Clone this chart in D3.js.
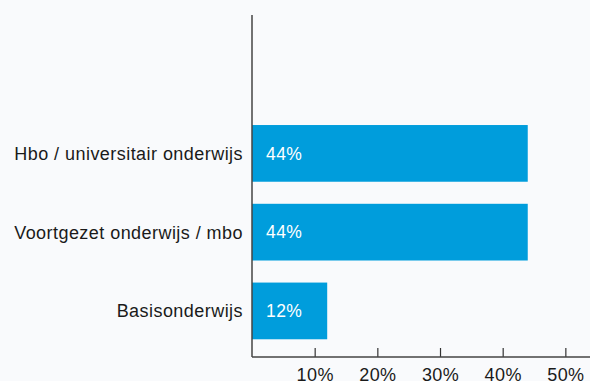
<!DOCTYPE html>
<html>
<head>
<meta charset="utf-8">
<script src="https://cdn.jsdelivr.net/npm/d3@7/dist/d3.min.js"></script>
<style>
  html, body { margin: 0; padding: 0; background: #f9fafc; }
  svg { display: block; font-family: "Liberation Sans", Arial, Helvetica, sans-serif; }
</style>
</head>
<body>
<svg id="chart" width="590" height="381"></svg>
<script>
// Education level shares
const categories = ["Hbo / universitair onderwijs", "Voortgezet onderwijs / mbo", "Basisonderwijs"];
const values = [44, 44, 12];
const tickValues = [10, 20, 30, 40, 50];

const width = 590, height = 381;
const x0 = 252, axisY = 357, plotTop = 15;

const svg = d3.select("#chart");
svg.append("rect").attr("width", width).attr("height", height).attr("fill", "#f9fafc");

const x = d3.scaleLinear().domain([0, 10]).range([x0, x0 + 62.67]);
const y = d3.scaleBand().domain(categories).range([114, 350.3]).paddingInner(0.28).paddingOuter(0.14);

// bars
svg.append("g").selectAll("rect")
  .data(categories)
  .join("rect")
  .attr("x", x(0))
  .attr("y", d => y(d))
  .attr("width", (d, i) => x(values[i]) - x(0))
  .attr("height", y.bandwidth())
  .attr("fill", "#009ddc");

// value labels inside bars
svg.append("g").selectAll("text")
  .data(categories)
  .join("text")
  .attr("x", x(0) + 14)
  .attr("y", d => y(d) + y.bandwidth() / 2)
  .attr("dy", "0.36em")
  .attr("fill", "#ffffff")
  .attr("font-size", 17.5)
  .attr("letter-spacing", 0.4)
  .text((d, i) => values[i] + "%");

// category labels
svg.append("g").selectAll("text")
  .data(categories)
  .join("text")
  .attr("x", x0 - 9)
  .attr("y", d => y(d) + y.bandwidth() / 2)
  .attr("dy", "0.36em")
  .attr("text-anchor", "end")
  .attr("fill", "#1a1a1a")
  .attr("font-size", 18)
  .attr("letter-spacing", 0.45)
  .text(d => d);

// x axis
const xAxis = d3.axisBottom(x)
  .tickValues(tickValues)
  .tickSize(-9)
  .tickPadding(0)
  .tickFormat(d => d + "%");
const gx = svg.append("g").attr("transform", `translate(0,${axisY})`).call(xAxis);
gx.select(".domain").remove();
gx.selectAll(".tick line").attr("stroke", "#333").attr("stroke-width", 1.2);
gx.selectAll(".tick text")
  .attr("font-size", 18)
  .attr("font-family", "Liberation Sans, Arial, sans-serif")
  .attr("letter-spacing", 0.4)
  .attr("fill", "#1a1a1a")
  .attr("y", 11)
  .attr("dy", "0.71em");
svg.append("line")
  .attr("x1", x0).attr("x2", width)
  .attr("y1", axisY).attr("y2", axisY)
  .attr("stroke", "#444").attr("stroke-width", 1.5);

// y axis line
svg.append("line")
  .attr("x1", x0).attr("x2", x0)
  .attr("y1", plotTop).attr("y2", axisY)
  .attr("stroke", "#444").attr("stroke-width", 1.5);
</script>
</body>
</html>
